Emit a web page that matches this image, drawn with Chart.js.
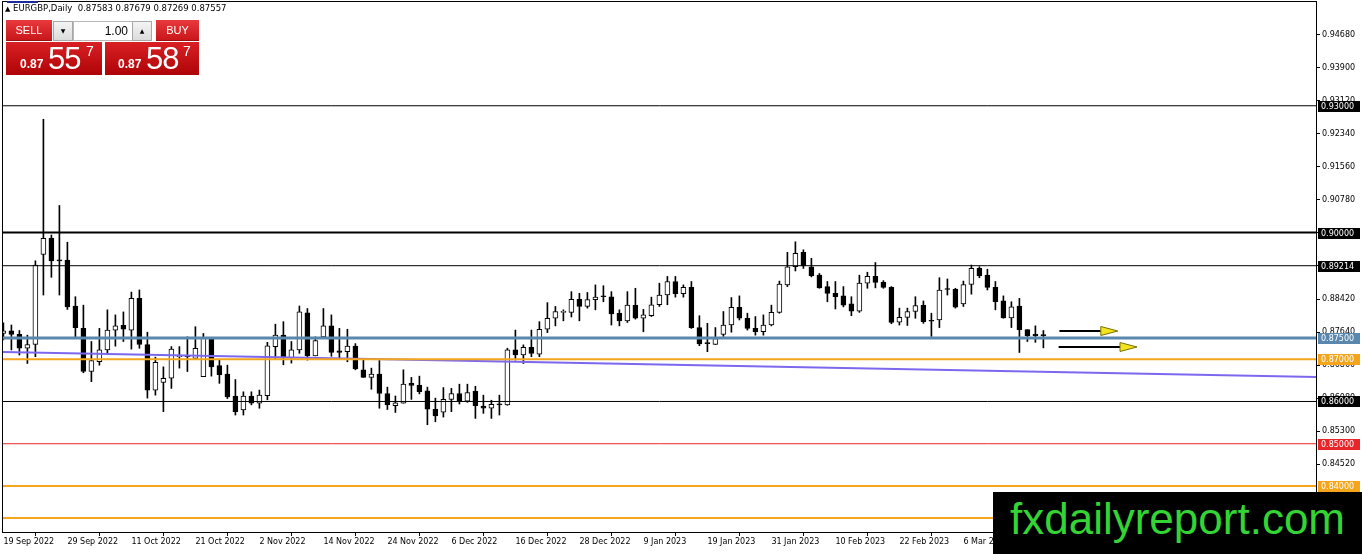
<!DOCTYPE html>
<html>
<head>
<meta charset="utf-8">
<script src="https://cdn.jsdelivr.net/npm/chart.js@4.4.0/dist/chart.umd.min.js"></script>
<style>
  body { margin: 0; background: #fff; }
  #wrap { position: relative; width: 1362px; height: 554px; overflow: hidden; font-family: "DejaVu Sans", sans-serif; }
  #c { position: absolute; left: 0; top: 0; }
  .abs { position: absolute; }
  .hdr { left: 5px; top: 3px; font-size: 8.5px; line-height: 11px; color: #000; white-space: nowrap; }
  .topline { left: 7px; top: 1px; width: 31px; height: 2px; background: #1c2a9c; }
  .btn { background: linear-gradient(#e8393c, #c9171b); color: #fff; font-family: "Liberation Sans", sans-serif; font-size: 11px; text-align: center; line-height: 20px; box-sizing: border-box; border-bottom: 1px solid #9c0d10; }
  .spin { background: linear-gradient(#f4f4f4, #dcdcdc); border: 1px solid #a8a8a8; box-sizing: border-box; font-size: 6px; text-align: center; line-height: 18px; color: #000; }
  .lot { background: #fff; border: 1px solid #b8b8b8; box-sizing: border-box; font-family: "Liberation Sans", sans-serif; font-size: 12px; text-align: right; padding-right: 4px; line-height: 18px; }
  .big { background: linear-gradient(#d92024, #ae0407); box-sizing: border-box; color: #fff; font-family: "Liberation Sans", sans-serif; }
  .big span { position: absolute; white-space: nowrap; }
  .pfx { font-size: 12px; font-weight: bold; }
  .pip { font-size: 31px; letter-spacing: -1px; }
  .sup { font-size: 14px; }
  .wm { left: 993px; top: 492px; width: 369px; height: 62px; background: #000; }
  .wm span { position: absolute; left: 17px; top: 2px; font-family: "Liberation Sans", sans-serif; font-size: 44px; color: #33d433; white-space: nowrap; }
</style>
</head>
<body>
<div id="wrap">
  <canvas id="c" width="1362" height="554"></canvas>

  <div class="abs topline"></div>
  <div class="abs hdr"><span style="font-size:7px">&#9650;</span> EURGBP,Daily&nbsp; 0.87583 0.87679 0.87269 0.87557</div>

  <div class="abs btn" style="left:6px;top:20px;width:46px;height:21px;">SELL</div>
  <div class="abs spin" style="left:53px;top:21px;width:20px;height:20px;">&#9660;</div>
  <div class="abs lot" style="left:73px;top:21px;width:60px;height:20px;">1.00</div>
  <div class="abs spin" style="left:132px;top:21px;width:20px;height:20px;">&#9650;</div>
  <div class="abs btn" style="left:156px;top:20px;width:43px;height:21px;">BUY</div>

  <div class="abs big" style="left:6px;top:42px;width:96px;height:33px;">
    <span class="pfx" style="left:14px;top:15px;">0.87</span>
    <span class="pip" style="left:42px;top:-1px;">55</span>
    <span class="sup" style="left:80px;top:1px;">7</span>
  </div>
  <div class="abs big" style="left:105px;top:42px;width:94px;height:33px;">
    <span class="pfx" style="left:13px;top:15px;">0.87</span>
    <span class="pip" style="left:41px;top:-1px;">58</span>
    <span class="sup" style="left:78px;top:1px;">7</span>
  </div>

  <div class="abs wm"><span>fxdailyreport.com</span></div>
</div>

<script>
// EURGBP daily candles, first bar = 19 Sep 2022
var opens = [0.8761, 0.8767, 0.8759, 0.8726, 0.8735, 0.8948, 0.8986, 0.8934, 0.8935, 0.8826,
  0.8773, 0.8671, 0.8694, 0.8722, 0.8769, 0.8780, 0.8769, 0.8844, 0.8735, 0.8627,
  0.8645, 0.8655, 0.8706, 0.8709, 0.8702, 0.8659, 0.8752, 0.8685, 0.8665, 0.8613,
  0.8580, 0.8613, 0.8596, 0.8614, 0.8730, 0.8757, 0.8704, 0.8722, 0.8810, 0.8708,
  0.8753, 0.8779, 0.8720, 0.8718, 0.8731, 0.8675, 0.8657, 0.8665, 0.8619, 0.8590,
  0.8596, 0.8643, 0.8639, 0.8625, 0.8582, 0.8575, 0.8605, 0.8619, 0.8601, 0.8624,
  0.8589, 0.8584, 0.8594, 0.8592, 0.8722, 0.8710, 0.8728, 0.8712, 0.8771, 0.8797,
  0.8811, 0.8811, 0.8842, 0.8825, 0.8841, 0.8849, 0.8848, 0.8809, 0.8791, 0.8828,
  0.8797, 0.8803, 0.8829, 0.8852, 0.8884, 0.8855, 0.8870, 0.8775, 0.8738, 0.8735,
  0.8759, 0.8781, 0.8823, 0.8797, 0.8773, 0.8765, 0.8781, 0.8811, 0.8876, 0.8919,
  0.8953, 0.8919, 0.8899, 0.8872, 0.8856, 0.8850, 0.8831, 0.8814, 0.8880, 0.8896,
  0.8882, 0.8870, 0.8788, 0.8799, 0.8813, 0.8828, 0.8791, 0.8793, 0.8866, 0.8866,
  0.8831, 0.8877, 0.8915, 0.8899, 0.8870, 0.8838, 0.8798, 0.8826, 0.8770, 0.8759,
  0.87583];
var highs = [0.8786, 0.8781, 0.8768, 0.8757, 0.8933, 0.9268, 0.8994, 0.9064, 0.8977, 0.8848,
  0.8828, 0.8742, 0.8773, 0.8817, 0.8805, 0.8812, 0.8859, 0.8864, 0.8764, 0.8705,
  0.8682, 0.8730, 0.8730, 0.8753, 0.8777, 0.8761, 0.8752, 0.8698, 0.8686, 0.8652,
  0.8623, 0.8623, 0.8627, 0.8740, 0.8783, 0.8789, 0.8742, 0.8826, 0.8820, 0.8753,
  0.8820, 0.8805, 0.8773, 0.8771, 0.8737, 0.8698, 0.8679, 0.8697, 0.8634, 0.8613,
  0.8675, 0.8657, 0.8660, 0.8634, 0.8608, 0.8633, 0.8631, 0.8641, 0.8641, 0.8636,
  0.8615, 0.8603, 0.8615, 0.8726, 0.8769, 0.8734, 0.8769, 0.8789, 0.8834, 0.8825,
  0.8817, 0.8860, 0.8856, 0.8858, 0.8876, 0.8874, 0.8860, 0.8817, 0.8860, 0.8868,
  0.8818, 0.8847, 0.8880, 0.8896, 0.8896, 0.8876, 0.8884, 0.8803, 0.8785, 0.8775,
  0.8813, 0.8846, 0.8850, 0.8809, 0.8801, 0.8805, 0.8828, 0.8885, 0.8953, 0.8978,
  0.8959, 0.8939, 0.8903, 0.8884, 0.8884, 0.8872, 0.8848, 0.8899, 0.8906, 0.8929,
  0.8886, 0.8872, 0.8821, 0.8821, 0.8848, 0.8838, 0.8809, 0.8893, 0.8890, 0.8868,
  0.8885, 0.8923, 0.8919, 0.8913, 0.8884, 0.8850, 0.8836, 0.8844, 0.8770, 0.8779,
  0.87679];
var lows = [0.8746, 0.8722, 0.8710, 0.8690, 0.8706, 0.8852, 0.8894, 0.8852, 0.8818, 0.8753,
  0.8668, 0.8647, 0.8686, 0.8714, 0.8731, 0.8742, 0.8724, 0.8726, 0.8608, 0.8615,
  0.8576, 0.8631, 0.8679, 0.8671, 0.8700, 0.8659, 0.8660, 0.8643, 0.8607, 0.8568,
  0.8568, 0.8592, 0.8584, 0.8604, 0.8700, 0.8687, 0.8691, 0.8714, 0.8698, 0.8708,
  0.8751, 0.8707, 0.8700, 0.8694, 0.8675, 0.8657, 0.8629, 0.8584, 0.8581, 0.8574,
  0.8596, 0.8605, 0.8618, 0.8545, 0.8552, 0.8563, 0.8576, 0.8594, 0.8598, 0.8560,
  0.8572, 0.8560, 0.8568, 0.8591, 0.8698, 0.8690, 0.8706, 0.8706, 0.8763, 0.8779,
  0.8791, 0.8800, 0.8791, 0.8821, 0.8817, 0.8836, 0.8781, 0.8779, 0.8787, 0.8795,
  0.8765, 0.8801, 0.8825, 0.8829, 0.8847, 0.8847, 0.8773, 0.8732, 0.8718, 0.8735,
  0.8754, 0.8764, 0.8793, 0.8769, 0.8757, 0.8757, 0.8779, 0.8809, 0.8872, 0.8909,
  0.8915, 0.8895, 0.8868, 0.8836, 0.8819, 0.8824, 0.8803, 0.8811, 0.8868, 0.8869,
  0.8868, 0.8784, 0.8781, 0.8780, 0.8797, 0.8785, 0.8754, 0.8775, 0.8852, 0.8821,
  0.8825, 0.8854, 0.8893, 0.8864, 0.8817, 0.8797, 0.8775, 0.8716, 0.8742, 0.8740,
  0.87269];
var closes = [0.8767, 0.8759, 0.8726, 0.8735, 0.8923, 0.8986, 0.8933, 0.8933, 0.8824, 0.8775,
  0.8671, 0.8697, 0.8722, 0.8769, 0.8779, 0.8771, 0.8844, 0.8735, 0.8627, 0.8693,
  0.8655, 0.8724, 0.8707, 0.8706, 0.8726, 0.8752, 0.8682, 0.8663, 0.8611, 0.8576,
  0.8613, 0.8596, 0.8615, 0.8732, 0.8757, 0.8706, 0.8722, 0.8812, 0.8708, 0.8744,
  0.8779, 0.8716, 0.8716, 0.8731, 0.8677, 0.8657, 0.8665, 0.8619, 0.8592, 0.8597,
  0.8641, 0.8638, 0.8623, 0.8582, 0.8566, 0.8605, 0.8619, 0.8601, 0.8621, 0.8590,
  0.8584, 0.8593, 0.8592, 0.8722, 0.8710, 0.8728, 0.8714, 0.8771, 0.8797, 0.8813,
  0.8812, 0.8842, 0.8825, 0.8841, 0.8847, 0.8848, 0.8807, 0.8791, 0.8828, 0.8797,
  0.8805, 0.8829, 0.8852, 0.8884, 0.8855, 0.8870, 0.8775, 0.8736, 0.8737, 0.8749,
  0.8781, 0.8823, 0.8797, 0.8773, 0.8765, 0.8781, 0.8811, 0.8878, 0.8919, 0.8951,
  0.8921, 0.8898, 0.8869, 0.8856, 0.8848, 0.8828, 0.8814, 0.8880, 0.8896, 0.8882,
  0.8870, 0.8787, 0.8799, 0.8813, 0.8827, 0.8789, 0.8790, 0.8864, 0.8865, 0.8823,
  0.8877, 0.8915, 0.8898, 0.8870, 0.8836, 0.8798, 0.8824, 0.8770, 0.8756, 0.8756,
  0.87557];

// time axis: a label every 8 bars
var xTickBars = [0, 8, 16, 24, 32, 40, 48, 56, 64, 72, 80, 88, 96, 104, 112, 120, 128];
var xTickLabels = ['19 Sep 2022', '29 Sep 2022', '11 Oct 2022', '21 Oct 2022', '2 Nov 2022', '14 Nov 2022',
  '24 Nov 2022', '6 Dec 2022', '16 Dec 2022', '28 Dec 2022', '9 Jan 2023', '19 Jan 2023', '31 Jan 2023',
  '10 Feb 2023', '22 Feb 2023', '6 Mar 2023', '16 Mar 2023'];
var yTicks = [0.9468, 0.939, 0.9312, 0.9234, 0.9156, 0.9078, 0.9, 0.8922, 0.8842, 0.8764,
  0.8686, 0.8608, 0.853, 0.8452, 0.8374];

// horizontal levels drawn on the chart
var levelPrices = [0.93, 0.90, 0.89214, 0.875, 0.87, 0.86, 0.85, 0.84, 0.8324];
var levelColors = ['#000000', '#000000', '#000000', '#5a87ad', '#f4a51c', '#000000', '#e8262a', '#f4a51c', '#f4a51c'];
var levelWidths = [1, 2, 1, 3, 2, 1, 1, 2, 2];

// sloping line (price at left edge, price at right edge)
var trendPrices = [0.8717, 0.8658];

// two arrows to the right of the last candle
var arrowFrom = [132.0, 131.9];
var arrowTo = [139.3, 141.7];
var arrowPrice = [0.8768, 0.8729];

var xMin = -0.05, xMax = 164.075;

var wickData = [], bodyData = [], bodyFill = [];
for (var i = 0; i < closes.length; i++) {
  wickData.push({ x: i, y: [lows[i], highs[i]] });
  bodyData.push({ x: i, y: [Math.min(opens[i], closes[i]), Math.max(opens[i], closes[i])] });
  bodyFill.push(closes[i] > opens[i] ? '#ffffff' : '#000000');
}

var datasets = [];
levelPrices.forEach(function (p, i) {
  datasets.push({
    type: 'line', data: [{ x: xMin, y: p }, { x: xMax, y: p }],
    borderColor: levelColors[i], borderWidth: levelWidths[i], pointRadius: 0, order: -1
  });
});
datasets.push({
  type: 'line', data: [{ x: xMin, y: trendPrices[0] }, { x: xMax, y: trendPrices[1] }],
  borderColor: '#7b68ee', borderWidth: 2, pointRadius: 0, order: -1
});
datasets.push({
  type: 'bar', data: bodyData, backgroundColor: bodyFill, borderColor: '#000', borderWidth: 1,
  borderSkipped: false, barThickness: 5, minBarLength: 1, grouped: false, order: 0
});
datasets.push({
  type: 'bar', data: wickData, backgroundColor: '#000', borderWidth: 0,
  barThickness: 1, grouped: false, order: 1
});

var labelBoxes = {
  id: 'labelBoxes',
  afterDatasetsDraw: function (chart) {
    var ctx = chart.ctx, xs = chart.scales.x, ys = chart.scales.y;
    ctx.save();
    for (var i = 0; i < arrowPrice.length; i++) {
      var x0 = xs.getPixelForValue(arrowFrom[i]);
      var x1 = xs.getPixelForValue(arrowTo[i]);
      var y = Math.round(ys.getPixelForValue(arrowPrice[i]));
      var hx = x1 - 17;
      ctx.strokeStyle = '#000'; ctx.lineWidth = 2;
      ctx.beginPath(); ctx.moveTo(x0, y); ctx.lineTo(hx, y); ctx.stroke();
      ctx.fillStyle = '#f2e41d';
      ctx.beginPath(); ctx.moveTo(hx, y - 4.5); ctx.lineTo(x1, y); ctx.lineTo(hx, y + 4.5); ctx.closePath();
      ctx.fill(); ctx.lineWidth = 1; ctx.strokeStyle = '#7a7000'; ctx.stroke();
    }
    var a = chart.chartArea;
    ctx.strokeStyle = '#000'; ctx.lineWidth = 1;
    ctx.strokeRect(a.left - 0.5, a.top - 0.5, a.right - a.left + 1, a.bottom - a.top + 1);
    ctx.restore();
  },
  afterDraw: function (chart) {
    var ctx = chart.ctx, ys = chart.scales.y;
    ctx.save();
    ctx.font = '8px "DejaVu Sans"';
    ctx.textBaseline = 'middle';
    levelPrices.forEach(function (p, i) {
      var y = Math.round(ys.getPixelForValue(p));
      ctx.fillStyle = levelColors[i];
      ctx.fillRect(1318, y - 5, 42, 11);
      ctx.fillStyle = '#fff';
      ctx.fillText(p.toFixed(5), 1321, y + 0.5);
    });
    ctx.restore();
  }
};

new Chart(document.getElementById('c'), {
  type: 'bar',
  data: { datasets: datasets },
  options: {
    responsive: false,
    animation: false,
    devicePixelRatio: 1,
    layout: { padding: { left: 3, top: 2, right: 0, bottom: 0 } },
    plugins: { legend: { display: false }, tooltip: { enabled: false } },
    scales: {
      x: {
        type: 'linear', min: xMin, max: xMax, offset: false,
        grid: { drawOnChartArea: false, tickLength: 4, color: '#000' },
        border: { display: true, color: '#000' },
        ticks: {
          align: 'start', maxRotation: 0, autoSkip: false, padding: 1, color: '#000',
          font: { family: 'DejaVu Sans', size: 8 },
          callback: function (v, i) { return xTickLabels[i]; }
        },
        afterBuildTicks: function (s) { s.ticks = xTickBars.map(function (v) { return { value: v }; }); },
        afterFit: function (s) { s.height = 22; s.paddingLeft = 0; s.paddingRight = 0; }
      },
      y: {
        position: 'right', min: 0.82911, max: 0.95456,
        grid: { drawOnChartArea: false, tickLength: 4, color: '#000' },
        border: { display: true, color: '#000' },
        ticks: {
          padding: 2, color: '#000', font: { family: 'DejaVu Sans', size: 8 },
          callback: function (v) { return v.toFixed(5); }
        },
        afterBuildTicks: function (s) { s.ticks = yTicks.map(function (v) { return { value: v }; }); },
        afterFit: function (s) { s.width = 46; s.paddingTop = 0; s.paddingBottom = 0; }
      }
    }
  },
  plugins: [labelBoxes]
});
</script>
</body>
</html>
